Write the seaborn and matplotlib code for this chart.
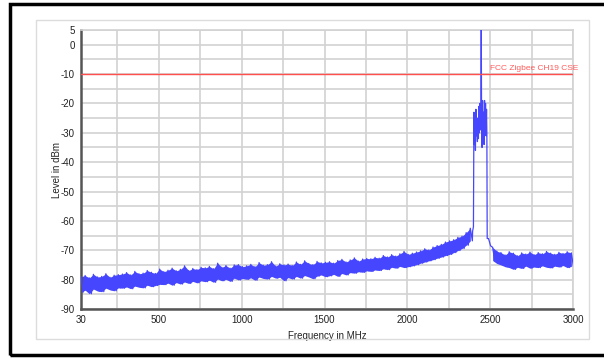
import numpy as np
import pandas as pd
import matplotlib
matplotlib.use("Agg")
import matplotlib.pyplot as plt
from matplotlib.patches import Rectangle
import seaborn as sns

# ---------------- data ----------------
# noise-floor bins below the channel: upper / lower envelope per 25 MHz bin
freq_left = [30, 55, 80, 105, 130, 155, 180, 205, 230, 255,
             280, 305, 330, 355, 380, 405, 430, 455, 480, 505,
             530, 555, 580, 605, 630, 655, 680, 705, 730, 755,
             780, 805, 830, 855, 880, 905, 930, 955, 980, 1005,
             1030, 1055, 1080, 1105, 1130, 1155, 1180, 1205, 1230, 1255,
             1280, 1305, 1330, 1355, 1380, 1405, 1430, 1455, 1480, 1505,
             1530, 1555, 1580, 1605, 1630, 1655, 1680, 1705, 1730, 1755,
             1780, 1805, 1830, 1855, 1880, 1905, 1930, 1955, 1980, 2005,
             2030, 2055, 2080, 2105, 2130, 2155, 2180, 2205, 2230, 2255,
             2280, 2305, 2330, 2355, 2380]
hi_left = [-79.0, -78.6, -79.4, -78.2, -79.1, -78.9, -78.0, -79.2, -78.5, -78.3,
           -78.1, -77.6, -78.4, -77.2, -78.0, -77.8, -76.9, -77.5, -77.9, -76.4,
           -77.3, -76.8, -76.1, -77.0, -76.5, -75.3, -76.9, -76.2, -76.6, -75.8,
           -76.0, -75.5, -76.3, -74.4, -75.8, -75.2, -76.1, -75.0, -74.9, -75.6,
           -75.3, -74.8, -75.6, -74.2, -75.1, -74.9, -73.9, -75.4, -74.6, -75.0,
           -74.7, -75.2, -74.0, -74.8, -73.6, -74.5, -74.9, -73.8, -74.3, -74.1,
           -73.9, -74.4, -73.5, -73.1, -74.0, -73.3, -72.6, -73.7, -73.0, -72.8,
           -72.9, -72.4, -72.7, -71.8, -72.3, -71.5, -72.0, -71.2, -70.4, -71.4,
           -71.0, -70.6, -70.2, -69.5, -69.9, -68.9, -68.4, -68.0, -67.2, -66.8,
           -66.4, -65.6, -65.2, -64.0, -62.5]
lo_left = [-84.3, -83.6, -84.8, -83.2, -83.9, -84.1, -82.9, -83.5, -83.8, -82.8,
           -82.9, -82.5, -83.1, -82.2, -82.6, -82.8, -81.9, -82.4, -82.0, -81.6,
           -81.7, -81.2, -81.9, -81.0, -81.5, -80.8, -81.3, -80.6, -81.1, -80.4,
           -80.7, -80.2, -80.9, -79.8, -80.4, -79.9, -80.6, -79.5, -80.1, -79.6,
           -79.9, -79.4, -80.2, -79.1, -79.6, -79.8, -78.9, -79.5, -79.2, -80.4,
           -79.3, -79.8, -78.9, -79.5, -78.6, -79.1, -79.7, -78.8, -78.4, -79.0,
           -78.7, -78.2, -78.9, -77.9, -78.4, -77.6, -77.8, -77.3, -77.5, -77.0,
           -77.2, -76.7, -76.9, -76.3, -76.6, -75.8, -76.1, -75.5, -75.9, -75.6,
           -75.3, -74.9, -74.4, -74.0, -73.6, -73.2, -72.7, -72.3, -71.8, -71.4,
           -70.8, -70.1, -69.4, -68.3, -66.8]

# occupied channel around 2445 MHz
freq_peak = [2394, 2399, 2402, 2405, 2408, 2411, 2414, 2417, 2420, 2423,
             2426, 2429, 2432, 2435, 2438, 2441, 2444, 2446, 2448, 2451,
             2454, 2457, 2460, 2463, 2466, 2469, 2472, 2475, 2478, 2480, 2482]
level_peak = [-63.5, -62.0, -23.0, -34.0, -24.0, -36.0, -22.0, -31.0, -27.0, -33.0,
              -25.0, -32.0, -21.0, -30.0, -20.0, -29.0, -22.0, 10.0, -24.0, -35.0,
              -19.0, -30.0, -23.0, -34.0, -19.0, -28.0, -20.0, -31.0, -22.0, -30.0, -66.0]

# noise floor above the channel
freq_right = [2490, 2515, 2540, 2565, 2590, 2615, 2640, 2665, 2690, 2715,
              2740, 2765, 2790, 2815, 2840, 2865, 2890, 2915, 2940, 2965, 2990]
hi_right = [-66.0, -69.0, -70.3, -70.8, -71.6, -70.5, -71.0, -71.9, -70.9, -71.3,
            -70.6, -71.5, -70.8, -71.2, -70.4, -71.0, -71.4, -70.7, -71.1, -70.5, -70.9]
lo_right = [-68.5, -73.5, -74.5, -75.0, -75.6, -75.9, -76.5, -75.8, -76.2, -75.4,
            -76.1, -75.7, -75.9, -75.3, -75.8, -76.0, -75.4, -75.7, -75.2, -75.9, -75.5]

limit_level = -10
limit_label = "FCC Zigbee CH19 CSE"
x_major = [30, 500, 1000, 1500, 2000, 2500, 3000]
x_minor = [250, 750, 1250, 1750, 2250, 2750]
y_major = [5, 0, -10, -20, -30, -40, -50, -60, -70, -80, -90]
y_minor = [-5, -15, -25, -35, -45, -55, -65, -75, -85]

TRACE = "#4646ff"

# ---------------- build trace ----------------
xs, ys = [], []
for f, h, l in zip(freq_left, hi_left, lo_left):
    xs += [f, f + 12.5]; ys += [h, l]
xs += freq_peak; ys += level_peak
for f, h, l in zip(freq_right, hi_right, lo_right):
    xs += [f, f + 12.5]; ys += [h, l]
df = pd.DataFrame({"freq": xs, "level": ys})

# ---------------- plot ----------------
sns.set_style("white")
plt.rcParams["font.family"] = ["Liberation Sans", "DejaVu Sans"]

fig = plt.figure(figsize=(6.04, 3.58), dpi=100)
ax = fig.add_axes([81 / 604, 1 - 309 / 358, (573 - 81) / 604, (309 - 30) / 358])

# dense noise band (envelope fill) + the trace itself
ax.fill_between(freq_left, lo_left, hi_left, color=TRACE, linewidth=0, zorder=2.5)
ax.fill_between(freq_right[1:], lo_right[1:], hi_right[1:], color=TRACE,
                linewidth=0, zorder=2.5)
sns.lineplot(data=df, x="freq", y="level", ax=ax, color=TRACE,
             linewidth=0.9, estimator=None, sort=False, zorder=3)
ax.axhline(limit_level, color="#ff4f4f", linewidth=1.0, zorder=4)
ax.annotate(limit_label, xy=(3000, limit_level), xytext=(4, 1.5),
            textcoords="offset points", color="#ff5c5c", fontsize=6,
            ha="right", va="bottom", zorder=5)

ax.set_xlim(30, 3000)
ax.set_ylim(-90, 5)
ax.set_xticks(x_major)
ax.set_xticks(x_minor, minor=True)
ax.set_yticks(y_major)
ax.set_yticks(y_minor, minor=True)
ax.set_xticklabels([str(v) for v in x_major])
ax.set_yticklabels([str(v) for v in y_major])
ax.tick_params(which="both", direction="inout", length=5, width=1.2,
               color="#444444", labelsize=7, labelcolor="#222222", pad=2)
ax.grid(True, which="both", color="#d2d2d2", linewidth=1.2, zorder=0)
ax.set_axisbelow(True)
ax.set_xlabel("Frequency in MHz", fontsize=7, labelpad=4, color="#222222")
ax.set_ylabel("Level in dBm", fontsize=7, labelpad=-1, color="#222222")
for s in ["left", "bottom"]:
    ax.spines[s].set_color("#555555")
    ax.spines[s].set_linewidth(1.8)
for s in ["top", "right"]:
    ax.spines[s].set_color("#d2d2d2")
    ax.spines[s].set_linewidth(1.2)

# inner panel and outer frame
fig.add_artist(Rectangle((36 / 604, 1 - 339 / 358), (589 - 36) / 604, (339 - 20) / 358,
                         transform=fig.transFigure, fill=False,
                         edgecolor="#dcdcdc", linewidth=1.0))
fig.add_artist(Rectangle((10 / 604, 1 - 355 / 358), 1.2, (355 - 4) / 358,
                         transform=fig.transFigure, fill=False,
                         edgecolor="black", linewidth=2.5))

fig.savefig("out.png", dpi=100)
